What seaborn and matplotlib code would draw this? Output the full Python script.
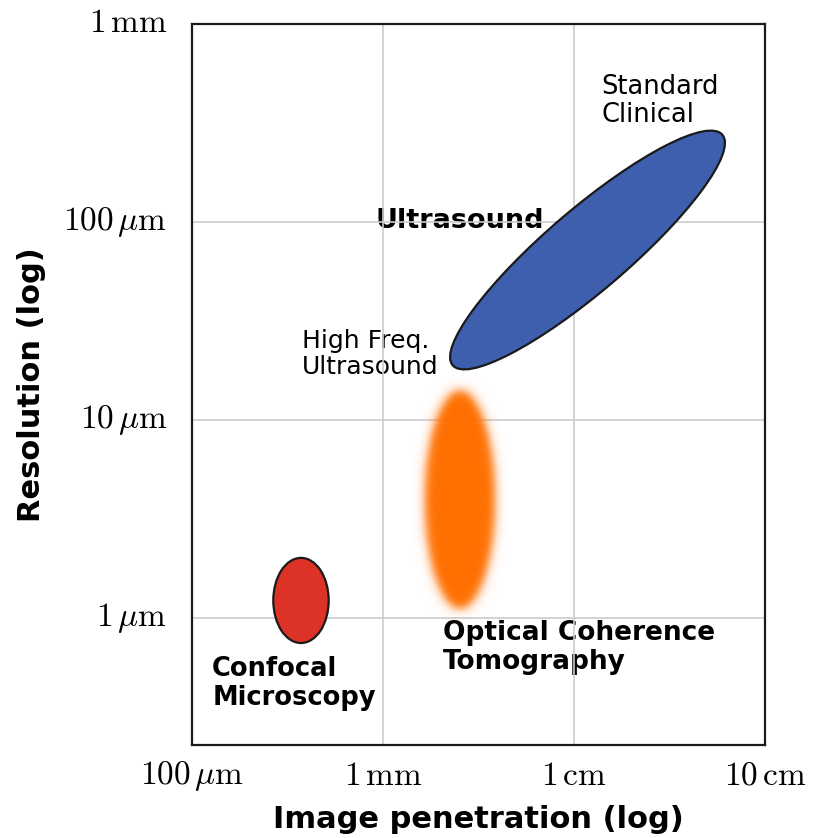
import numpy as np
import pandas as pd
import matplotlib
matplotlib.use("Agg")
import matplotlib.pyplot as plt
from matplotlib.patches import Ellipse
from matplotlib.transforms import ScaledTranslation
import seaborn as sns

# positions are log10(penetration in mm) and log10(resolution in um)
tech = ["Confocal", "OCT", "Ultrasound"]
center_x = [-0.43, 0.40, 1.07]
center_y = [0.09, 0.60, 1.86]
width = [0.29, 0.37, 1.83]
height = [0.43, 1.10, 0.42]
angle = [0, 0, 39.4]
colors = ["#dd3326", "#ff6f00", "#3d5fad"]
blurred = [False, True, False]

xticks = [-1, 0, 1, 2]
xlabels = [r"$100\,\mu\mathrm{m}$", r"$1\,\mathrm{mm}$", r"$1\,\mathrm{cm}$", r"$10\,\mathrm{cm}$"]
yticks = [0, 1, 2, 3]
ylabels = [r"$1\,\mu\mathrm{m}$", r"$10\,\mu\mathrm{m}$", r"$100\,\mu\mathrm{m}$", r"$1\,\mathrm{mm}$"]

df = pd.DataFrame({"tech": tech, "x": center_x, "y": center_y, "w": width,
                   "h": height, "angle": angle, "color": colors, "blur": blurred})

sns.set_theme(style="whitegrid")
plt.rcParams["mathtext.fontset"] = "cm"
plt.rcParams["font.family"] = ["DejaVu Sans"]
plt.rcParams["text.color"] = "black"
plt.rcParams["axes.labelcolor"] = "black"
plt.rcParams["xtick.color"] = "black"
plt.rcParams["ytick.color"] = "black"

fig, ax = plt.subplots(figsize=(8.14, 8.38), dpi=100)
fig.subplots_adjust(left=0.236, right=0.940, top=0.971, bottom=0.111)
ax.set_xlim(-1, 2)
ax.set_ylim(-0.64, 3)
ax.set_axisbelow(True)
ax.grid(True, color="#cccccc", linewidth=1.2)
for s in ax.spines.values():
    s.set_color("#1a1a1a")
    s.set_linewidth(1.6)
ax.set_xticks(xticks)
ax.set_xticklabels(xlabels, fontsize=24)
ax.set_yticks(yticks)
ax.set_yticklabels(ylabels, fontsize=24)
ax.tick_params(axis="both", length=8, width=1.6, color="#1a1a1a", direction="out")
ax.tick_params(axis="y", pad=10)
ax.tick_params(axis="x", pad=2)
# nudge the y tick labels up a little, mathtext sits low
for lab in ax.get_yticklabels():
    lab.set_transform(lab.get_transform() + ScaledTranslation(0, 0.05, fig.dpi_scale_trans))

fig.canvas.draw()
for _, r in df.iterrows():
    if not r["blur"]:
        ax.add_patch(Ellipse((r["x"], r["y"]), r["w"], r["h"], angle=r["angle"],
                             facecolor=r["color"], edgecolor="#1a1a1a", linewidth=1.6, zorder=2))
    else:
        # soft edged ellipse: alpha falls off over a few pixels
        x0, x1 = r["x"] - r["w"], r["x"] + r["w"]
        y0, y1 = r["y"] - r["h"] * 0.7, r["y"] + r["h"] * 0.7
        xs = np.linspace(x0, x1, 300)
        ys = np.linspace(y0, y1, 600)
        X, Y = np.meshgrid(xs, ys)
        sx = ax.transData.transform((1, 0))[0] - ax.transData.transform((0, 0))[0]
        sy = ax.transData.transform((0, 1))[1] - ax.transData.transform((0, 0))[1]
        dx = (X - r["x"]) * sx
        dy = (Y - r["y"]) * sy
        a = r["w"] / 2 * sx
        b = r["h"] / 2 * sy
        rr = np.sqrt((dx / a) ** 2 + (dy / b) ** 2)
        grad = np.sqrt((dx / a ** 2) ** 2 + (dy / b ** 2) ** 2) / np.maximum(rr, 1e-9)
        dist = (rr - 1) / np.maximum(grad, 1e-9)
        alpha = 1 / (1 + np.exp(np.clip(dist / 2.8, -50, 50)))
        rgba = np.zeros(X.shape + (4,))
        rgba[..., :3] = matplotlib.colors.to_rgb(r["color"])
        rgba[..., 3] = alpha
        ax.imshow(rgba, extent=(x0, x1, y0, y1), origin="lower", aspect="auto",
                  interpolation="bilinear", zorder=2)
ax.set_xlim(-1, 2)
ax.set_ylim(-0.64, 3)

ax.text(1.141, 2.75, "Standard\nClinical", fontsize=18.5, ha="left", va="top",
        linespacing=1.1, zorder=0.4)
ax.text(0.40, 2.005, "Ultrasound", fontsize=19.5, fontweight="bold", ha="center",
        va="center", zorder=0.4)
ax.text(-0.424, 1.46, "High Freq.\nUltrasound", fontsize=18, ha="left", va="top",
        linespacing=1.1, zorder=0.4)
ax.text(0.314, -0.01, "Optical Coherence\nTomography", fontsize=19, fontweight="bold",
        ha="left", va="top", linespacing=1.15, zorder=0.4)
ax.text(-0.895, -0.19, "Confocal\nMicroscopy", fontsize=18.5, fontweight="bold",
        ha="left", va="top", linespacing=1.15, zorder=0.4)

ax.set_xlabel("Image penetration (log)", fontsize=22, fontweight="bold", labelpad=9)
ax.set_ylabel("Resolution (log)", fontsize=22, fontweight="bold", labelpad=12)

fig.savefig("out.png", dpi=100)
